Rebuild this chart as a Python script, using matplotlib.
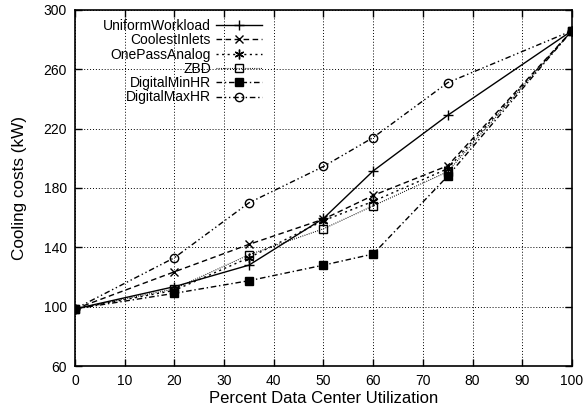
import matplotlib.pyplot as plt

plt.rcParams["font.family"] = ["Liberation Sans", "DejaVu Sans"]

# Datos
utilizacion = [0, 20, 35, 50, 60, 75, 100]
uniform_workload = [98.5, 113.5, 128, 159.5, 191.5, 229, 286]
coolest_inlets = [98.5, 123.5, 142, 159, 175, 195, 286]
one_pass_analog = [98.5, 111, 133, 158, 171, 193, 286]
zbd = [98.5, 112, 135, 152.5, 168, 191, 286]
digital_min_hr = [98.5, 109, 117.5, 128, 135.5, 188, 286]
digital_max_hr = [98.5, 133, 170, 194.5, 214, 251, 286]

x_ticks = [0, 10, 20, 30, 40, 50, 60, 70, 80, 90, 100]
y_ticks = [60, 100, 140, 180, 220, 260, 300]

fig = plt.figure(figsize=(5.86, 4.15), dpi=100)
ax = fig.add_axes([0.128, 0.118, 0.848, 0.858])

star = (6, 2, 0)
ax.plot(utilizacion, uniform_workload, color="black", lw=1.0, ls="-",
        marker="+", ms=7, mew=1.0, label="UniformWorkload")
ax.plot(utilizacion, coolest_inlets, color="black", lw=1.0, ls=(0, (4, 2.5)),
        marker="x", ms=6, mew=1.0, label="CoolestInlets")
ax.plot(utilizacion, one_pass_analog, color="black", lw=1.0, ls=(0, (1.5, 2.5)),
        marker=star, ms=7, mew=1.0, label="OnePassAnalog")
ax.plot(utilizacion, zbd, color="black", lw=0.8, ls=(0, (0.8, 1.2)),
        marker="s", ms=6, mew=1.0, mfc="none", label="ZBD")
ax.plot(utilizacion, digital_min_hr, color="black", lw=1.0, ls=(0, (4, 2, 1, 2)),
        marker="s", ms=6, mew=1.0, label="DigitalMinHR")
ax.plot(utilizacion, digital_max_hr, color="black", lw=1.0,
        ls=(0, (4, 2, 1, 2, 1, 2)),
        marker="o", ms=6, mew=1.0, mfc="none", label="DigitalMaxHR")

ax.set_xlim(0, 100)
ax.set_ylim(60, 300)
ax.set_xticks(x_ticks)
ax.set_yticks(y_ticks)
ax.tick_params(direction="in", top=True, right=True, length=5, width=1,
               labelsize=10, colors="black", pad=6)
ax.grid(True, color="black", ls=(0, (1, 2)), lw=0.7)
for s in ax.spines.values():
    s.set_linewidth(1.2)

ax.set_xlabel("Percent Data Center Utilization", fontsize=12, labelpad=2)
ax.set_ylabel("Cooling costs (kW)", fontsize=12.3, labelpad=12)

leg = ax.legend(loc="upper left", bbox_to_anchor=(0.045, 0.99), frameon=False,
                markerfirst=False, fontsize=10, labelspacing=0.02,
                handlelength=3.3, handletextpad=0.4, borderaxespad=0)

fig.savefig("out.png", dpi=100)
